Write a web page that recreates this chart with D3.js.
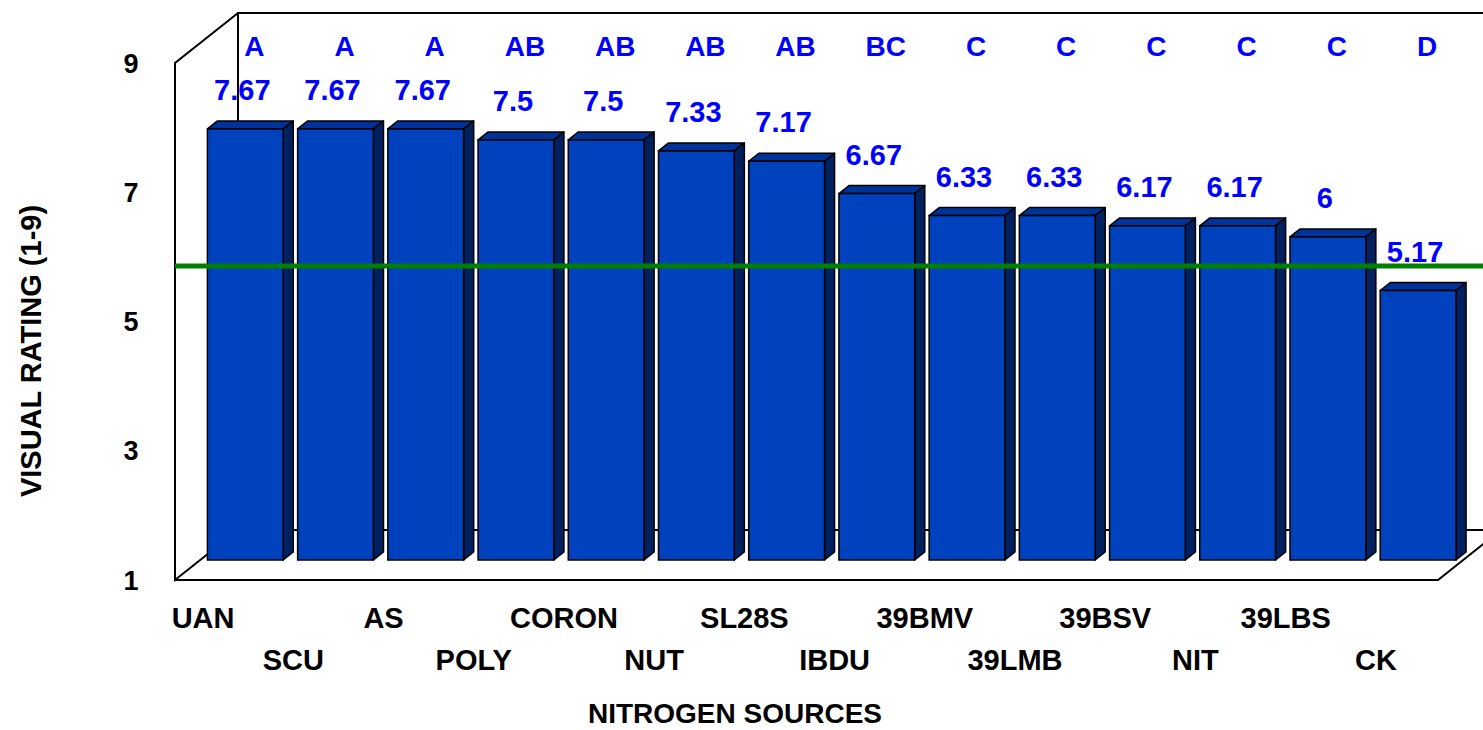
<!DOCTYPE html>
<html>
<head>
<meta charset="utf-8">
<script src="https://cdn.jsdelivr.net/npm/d3@7"></script>
<style>
  html, body { margin: 0; padding: 0; background: #fff; }
  svg { display: block; }
  text { font-family: "Liberation Sans", Arial, sans-serif; font-weight: bold; }
</style>
</head>
<body>
<script>
const categories = ["UAN","SCU","AS","POLY","CORON","NUT","SL28S","IBDU","39BMV","39LMB","39BSV","NIT","39LBS","CK"];
const ratings = [7.67,7.67,7.67,7.5,7.5,7.33,7.17,6.67,6.33,6.33,6.17,6.17,6,5.17];
const groupLetters = ["A","A","A","AB","AB","AB","AB","BC","C","C","C","C","C","D"];
const yTicks = [1,3,5,7,9];
const referenceLevel = 5.86;

const W = 1483, H = 730;
const svg = d3.select("body").append("svg").attr("width", W).attr("height", H);

// 3D geometry
const frontLeft = 175, frontRight = 1438;
const depthDx = 63, depthDy = -50;
const barDepthStart = 0.4, barDepthLen = 0.16;

const y = d3.scaleLinear().domain([1, 9]).range([580, 63]);
const x = d3.scaleBand().domain(categories).range([frontLeft, frontRight])
  .paddingInner(0.16).paddingOuter(0.08);

const y0 = y(1);
const yTopWall = y(9);

// Back wall
const bx = frontLeft + depthDx, byTop = yTopWall + depthDy, byBot = y0 + depthDy;
const g = svg.append("g");
g.append("path")
  .attr("d", `M${W+30},${byTop} L${bx},${byTop} L${bx},${byBot} L${W+30},${byBot}`)
  .attr("fill", "none").attr("stroke", "#000").attr("stroke-width", 2);
// Left wall
g.append("path")
  .attr("d", `M${bx},${byTop} L${frontLeft},${yTopWall} L${frontLeft},${y0} L${bx},${byBot}`)
  .attr("fill", "none").attr("stroke", "#000").attr("stroke-width", 2);
// Floor front edge
g.append("path")
  .attr("d", `M${frontLeft},${y0} L${frontRight},${y0} L${frontRight+depthDx},${y0+depthDy}`)
  .attr("fill", "none").attr("stroke", "#000").attr("stroke-width", 2);

// Bars
const offX = depthDx * barDepthStart, offY = depthDy * barDepthStart;
const dX = depthDx * barDepthLen, dY = depthDy * barDepthLen;
const bw = x.bandwidth();
const bars = g.selectAll("g.bar").data(categories.map((c, i) => ({c, v: ratings[i], i})))
  .enter().append("g").attr("class", "bar");
bars.each(function(d) {
  const sel = d3.select(this);
  const xl = x(d.c) + offX;
  const yt = y(d.v) + offY;
  const yb = y0 + offY;
  sel.append("path")
    .attr("d", `M${xl},${yt} L${xl+dX},${yt+dY} L${xl+bw+dX},${yt+dY} L${xl+bw},${yt} Z`)
    .attr("fill", "#00339A").attr("stroke", "#000").attr("stroke-width", 1.5).attr("stroke-linejoin", "round");
  sel.append("path")
    .attr("d", `M${xl+bw},${yt} L${xl+bw+dX},${yt+dY} L${xl+bw+dX},${yb+dY} L${xl+bw},${yb} Z`)
    .attr("fill", "#00205F").attr("stroke", "#000").attr("stroke-width", 1.5).attr("stroke-linejoin", "round");
  sel.append("rect")
    .attr("x", xl).attr("y", yt).attr("width", bw).attr("height", yb - yt)
    .attr("fill", "#0041BE").attr("stroke", "#000").attr("stroke-width", 1.5);
});

// Reference line
g.append("line")
  .attr("x1", frontLeft).attr("x2", W)
  .attr("y1", y(referenceLevel)).attr("y2", y(referenceLevel))
  .attr("stroke", "#008000").attr("stroke-width", 5);

// Value labels
g.selectAll("text.val").data(ratings).enter().append("text")
  .attr("class", "val")
  .attr("x", (d, i) => x(categories[i]) + offX + bw / 2 - 3)
  .attr("y", d => y(d) + offY - 29)
  .attr("text-anchor", "middle").attr("font-size", 29).attr("fill", "#0000FF")
  .text(d => String(d));

// Group letters
g.selectAll("text.grp").data(groupLetters).enter().append("text")
  .attr("class", "grp")
  .attr("x", (d, i) => x(categories[i]) + offX + bw / 2 + 9)
  .attr("y", 56)
  .attr("text-anchor", "middle").attr("font-size", 28).attr("fill", "#0000FF")
  .text(d => d);

// Y tick labels
g.selectAll("text.tick").data(yTicks).enter().append("text")
  .attr("class", "tick")
  .attr("x", 131).attr("y", d => y(d))
  .attr("dy", "0.36em")
  .attr("text-anchor", "middle").attr("font-size", 27).attr("fill", "#000")
  .text(d => d);

// Category labels (staggered)
g.selectAll("text.cat").data(categories).enter().append("text")
  .attr("class", "cat")
  .attr("x", d => x(d) - x.step() * x.paddingInner() / 2 + x.step() / 2 - 17)
  .attr("y", (d, i) => i % 2 === 0 ? 628 : 670)
  .attr("text-anchor", "middle").attr("font-size", 29).attr("fill", "#000")
  .text(d => d);

// Axis titles
svg.append("text")
  .attr("x", 735).attr("y", 723)
  .attr("text-anchor", "middle").attr("font-size", 28).attr("fill", "#000")
  .text("NITROGEN SOURCES");
svg.append("text")
  .attr("transform", "translate(41,351) rotate(-90)")
  .attr("text-anchor", "middle").attr("font-size", 29).attr("fill", "#000")
  .text("VISUAL RATING (1-9)");
</script>
</body>
</html>
